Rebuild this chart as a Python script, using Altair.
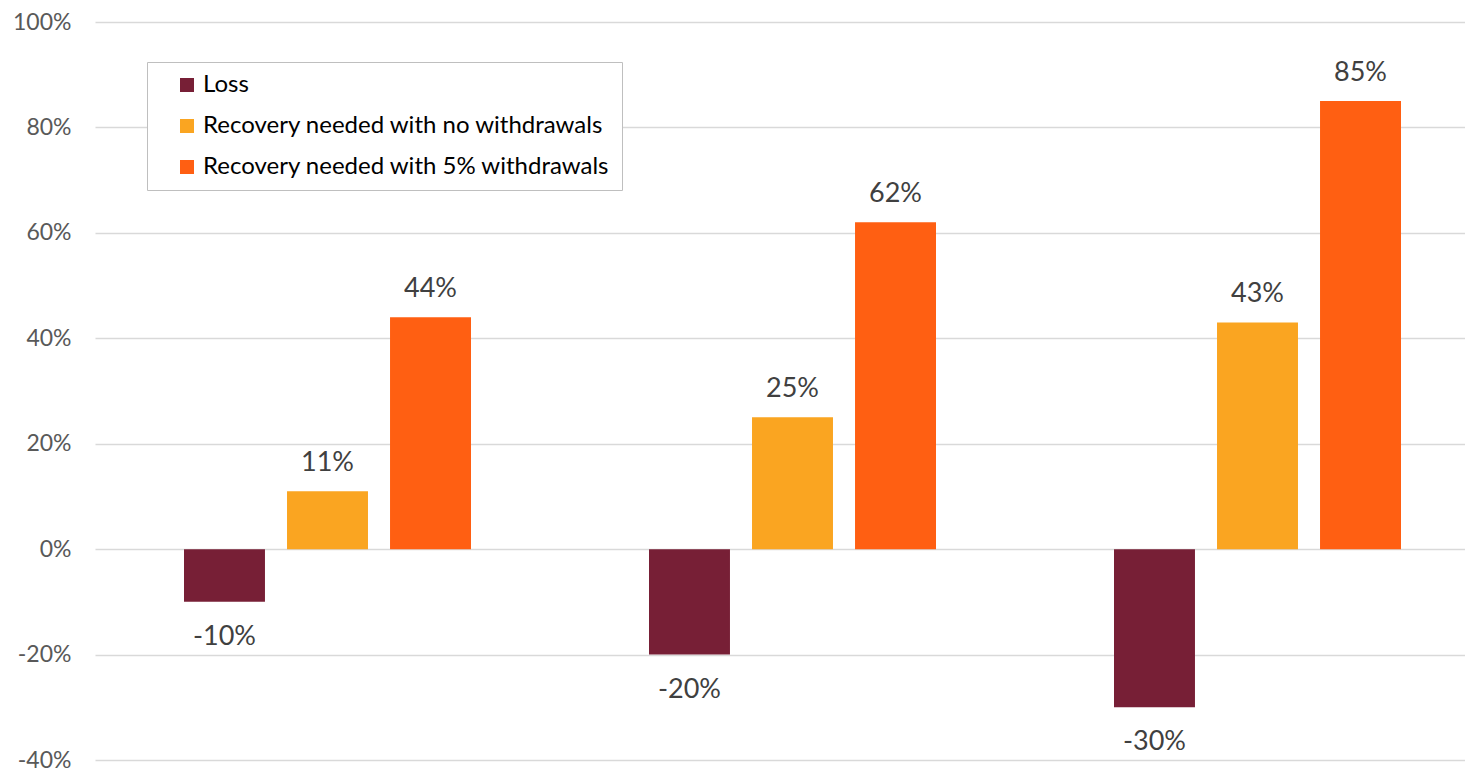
import altair as alt
import pandas as pd

groups = ["Loss of 10%", "Loss of 20%", "Loss of 30%"]
series = ["Loss", "Recovery needed with no withdrawals", "Recovery needed with 5% withdrawals"]
loss_values = [-10, -20, -30]
no_withdrawal_values = [11, 25, 43]
withdrawal_5_values = [44, 62, 85]
colors = ["#771F36", "#FAA521", "#FF5F12"]
y_ticks = [-40, -20, 0, 20, 40, 60, 80, 100]

rows = []
for i, g in enumerate(groups):
    for s, vals in zip(series, [loss_values, no_withdrawal_values, withdrawal_5_values]):
        rows.append({"group": g, "series": s, "value": vals[i]})
df = pd.DataFrame(rows)

base = alt.Chart(df).transform_calculate(
    label="datum.value + '%'"
).encode(
    x=alt.X("group:N", sort=groups, axis=None,
            scale=alt.Scale(range=[0, 1395], paddingInner=0, paddingOuter=0)),
    xOffset=alt.XOffset("series:N", sort=series,
                        scale=alt.Scale(paddingInner=0.214, paddingOuter=0.864)),
    y=alt.Y("value:Q",
            scale=alt.Scale(domain=[-40, 100], nice=False),
            axis=alt.Axis(values=y_ticks, labelExpr="datum.value + '%'", ticks=False,
                          domain=False, labelFont="Lato", labelFontSize=23,
                          labelColor="#595959", labelPadding=24,
                          gridColor="#d9d9d9", gridWidth=1.5, title=None)),
)

bars = base.mark_bar().encode(
    color=alt.Color("series:N", sort=series,
                    scale=alt.Scale(domain=series, range=colors),
                    legend=alt.Legend(orient="none", legendX=52, legendY=40, title=None,
                                      labelFont="Lato", labelFontSize=24, labelColor="#000000",
                                      labelLimit=600,
                                      symbolType="square", symbolSize=196, symbolStrokeWidth=0,
                                      strokeColor="#bfbfbf", fillColor="white", padding=11,
                                      rowPadding=17, symbolOffset=17, labelOffset=4))
)

pos_text = base.mark_text(font="Lato", fontSize=27, color="#404040",
                          baseline="alphabetic", dy=-20).encode(
    text="label:N"
).transform_filter("datum.value >= 0")

neg_text = base.mark_text(font="Lato", fontSize=27, color="#404040",
                          baseline="alphabetic", dy=43).encode(
    text="label:N"
).transform_filter("datum.value < 0")

chart = alt.layer(bars, pos_text, neg_text).properties(
    width=1370, height=738,
    padding={"left": 87, "top": 14, "right": 0, "bottom": 16},
    autosize=alt.AutoSizeParams(type="none"),
).configure_view(stroke=None)

chart.save("out.html", embed_options={"renderer": "svg", "actions": False})
